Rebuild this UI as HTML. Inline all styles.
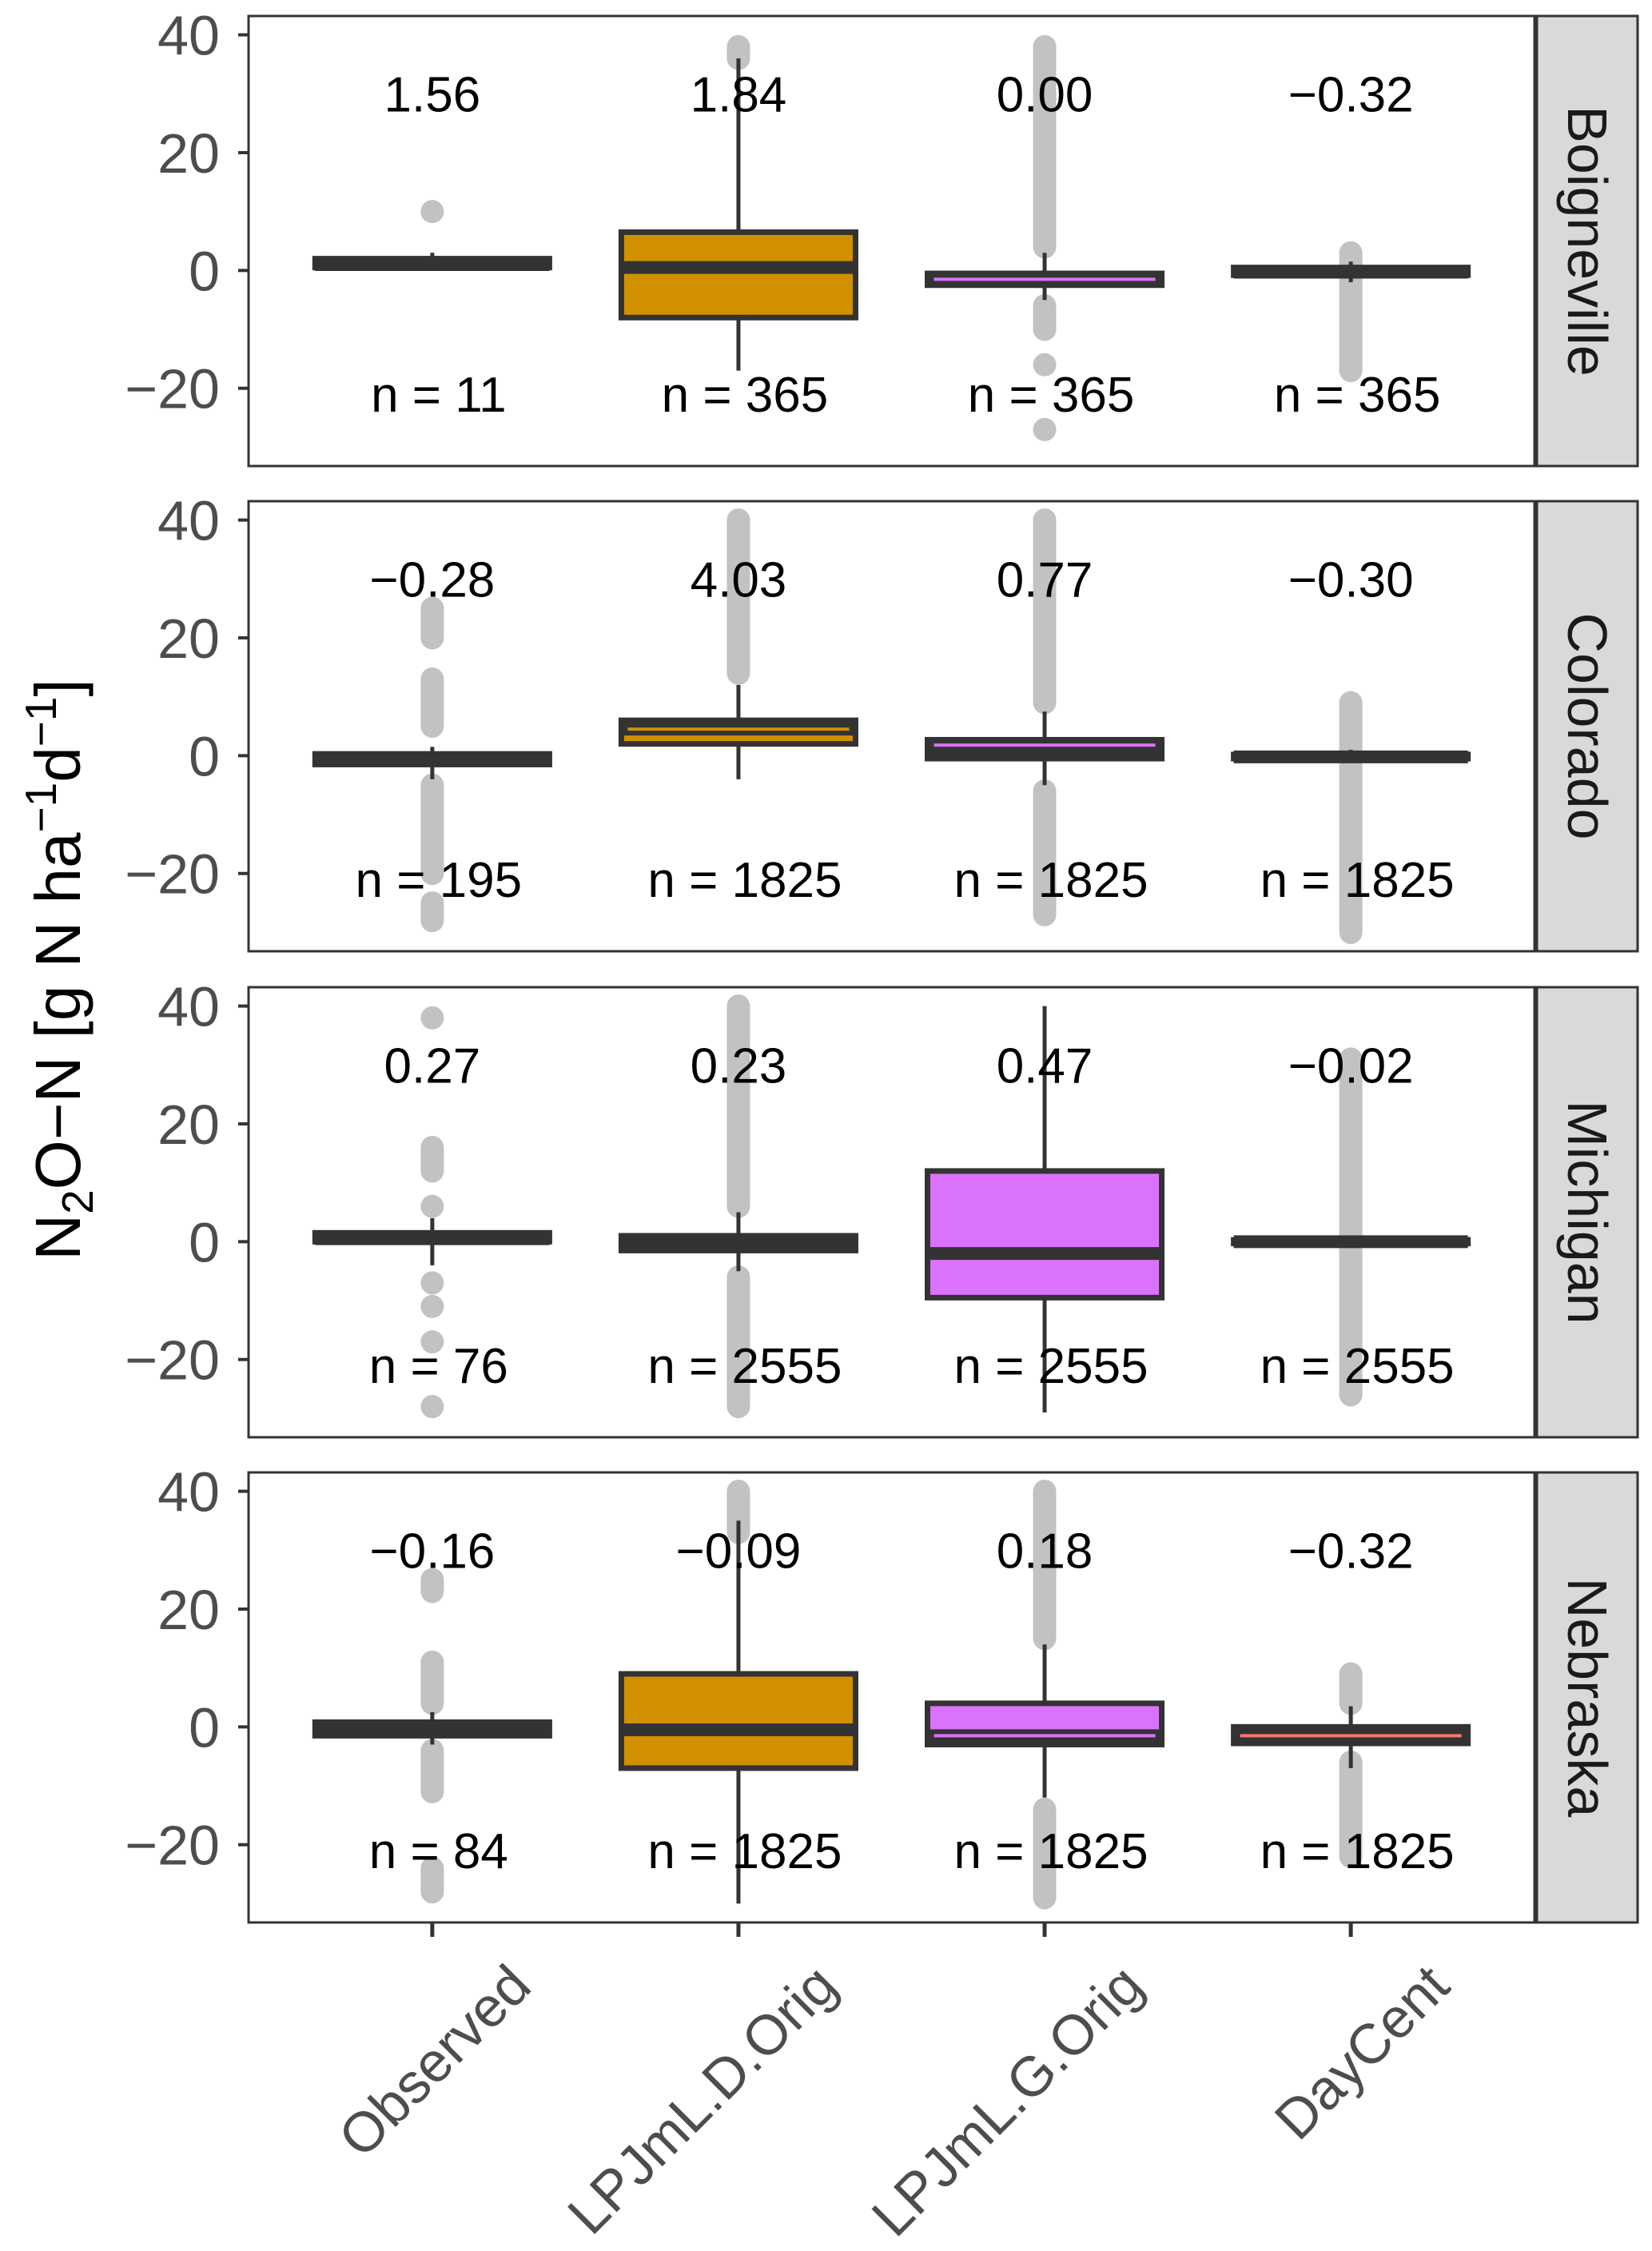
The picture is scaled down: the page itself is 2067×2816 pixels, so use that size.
<!DOCTYPE html>
<html><head><meta charset="utf-8"><style>
html,body{margin:0;padding:0;background:#fff;}
svg{display:block;font-family:"Liberation Sans",Arial,sans-serif;}
</style></head><body>
<svg id="chart" width="2067" height="2816" viewBox="0 0 2067 2816" xmlns="http://www.w3.org/2000/svg">
<text transform="translate(100,1213) rotate(-90)" text-anchor="middle" font-size="80" fill="#000">N<tspan font-size="55" dy="16">2</tspan><tspan dy="-16">O−N [g N ha</tspan><tspan font-size="55" dy="-30">−1</tspan><tspan dy="30">d</tspan><tspan font-size="55" dy="-30">−1</tspan><tspan dy="30">]</tspan></text>
</svg>
<script>
const categories = ["Observed","LPJmL.D.Orig","LPJmL.G.Orig","DayCent"];
const sites = ["Boigneville","Colorado","Michigan","Nebraska"];
const fills = ["#333333","#d19000","#db72fb","#333333"];
const yTicks = [-20,0,20,40];
// per site, per category: [whiskerLow, q1, median, q3, whiskerHigh]
const boxStats = [
 [[0.5,0.5,1,2,3],[-17,-8,0.5,6.5,36],[-5,-2.5,-1.5,-0.5,3],[-2,-0.8,-0.3,0.5,1.5]],
 [[-4,-1.5,-0.8,0.3,1.5],[-4,2,4.5,6,12],[-5,-0.5,1.8,2.7,7.5],[-1,-0.5,-0.2,0.2,1]],
 [[-4,0,0.5,1.5,4],[-5,-1.5,-0.5,1,5],[-29,-9.5,-2,12,40],[-0.5,-0.3,0,0.3,0.5]],
 [[-3,-1.5,-0.3,0.8,2.5],[-30,-7,-0.5,9,35],[-12,-3,-1.5,4,14],[-7,-2.8,-1.5,0,3.5]]
];
// median stripe colour shown (null = plain dark median)
const medianColors = [
 [null,null,"#db72fb",null],
 [null,"#d19000","#db72fb",null],
 [null,null,null,null],
 [null,null,"#db72fb","#f8766d"]
];
// outlier runs [low, high]
const outlierRuns = [
 [[[10,10]],[[36,38]],[[4,38],[-6,-10],[-16,-16],[-27,-27]],[[-17,3]]],
 [[[20,25],[5,13],[-5,-20],[-25,-28]],[[14,40]],[[9,40],[-6,-27]],[[-30,9]]],
 [[[38,38],[12,16],[6,6],[-7,-7],[-11,-11],[-17,-17],[-28,-28]],[[6,40],[-6,-28]],[],[[-26,31]]],
 [[[23,25],[4,11],[-4,-11],[-24,-28]],[[33,40]],[[15,40],[-14,-29]],[[4,9],[-6,-22]]]
];
const meanLabels = [["1.56","1.84","0.00","−0.32"],["−0.28","4.03","0.77","−0.30"],["0.27","0.23","0.47","−0.02"],["−0.16","−0.09","0.18","−0.32"]];
const nLabels = [["11","365","365","365"],["195","1825","1825","1825"],["76","2555","2555","2555"],["84","1825","1825","1825"]];

const NS="http://www.w3.org/2000/svg";
const svg=document.getElementById('chart');
const plotL=311, plotR=1920, stripL=1923, stripR=2049, panelH=563;
const panelTops=[20,627,1235,1842];
const yMin=-33.2, yMax=43.2;
const step=(plotR-plotL)/4.2;
function xPos(i){return plotL+step*(0.6+i);}
function mk(tag,attrs,parent){const e=document.createElementNS(NS,tag);for(const k in attrs)e.setAttribute(k,attrs[k]);(parent||svg).appendChild(e);return e;}
const boxW=step*0.765;

sites.forEach((site,p)=>{
  const top=panelTops[p];
  const yS=v=>top+(yMax-v)/(yMax-yMin)*panelH;
  const g=mk('g',{});
  
  
  const bg=mk('rect',{x:plotL,y:top,width:plotR-plotL,height:panelH,fill:'#fff'},g);
  
  
  yTicks.forEach(t=>{
    const tk=mk('line',{x1:plotL-13,x2:plotL,y1:yS(t),y2:yS(t),stroke:'#333','stroke-width':4},g);
    
    
    const tl=mk('text',{x:plotL-36,y:yS(t)+25,'text-anchor':'end','font-size':70,fill:'#4d4d4d'},g);
    tl.textContent=t<0?'−'+Math.abs(t):String(t);
    
    
  });
  categories.forEach((c,i)=>{
    const x=xPos(i);
    outlierRuns[p][i].forEach(r=>{
      const o=mk('line',{x1:x,x2:x,y1:yS(r[1]),y2:yS(r[0]),stroke:'#c2c2c2','stroke-width':29,'stroke-linecap':'round'},g);
      
      
    });
    const s=boxStats[p][i];
    const w=mk('line',{x1:x,x2:x,y1:yS(s[4]),y2:yS(s[0]),stroke:'#333','stroke-width':5},g);
    
    
    const bh=yS(s[1])-yS(s[3]);
    const thin=bh<25;
    const b=mk('rect',{x:x-boxW/2,y:yS(s[3]),width:boxW,height:Math.max(bh,1),fill:thin?'#333':fills[i],stroke:'#333','stroke-width':7},g);
    
    
    const mc=medianColors[p][i];
    const m=mk('line',{x1:x-boxW/2,x2:x+boxW/2,y1:yS(s[2]),y2:yS(s[2]),stroke:'#333','stroke-width':16},g);
    
    
    if(mc){
      const ms=mk('line',{x1:x-boxW/2+8,x2:x+boxW/2-8,y1:yS(s[2]),y2:yS(s[2]),stroke:mc,'stroke-width':4},g);
      
      
    }
    const ml=mk('text',{x:x,y:yS(30)+22,'text-anchor':'middle','font-size':62,fill:'#000'},g);
    ml.textContent=meanLabels[p][i];
    
    
    const nl=mk('text',{x:x+8,y:yS(-21)+22,'text-anchor':'middle','font-size':62,fill:'#000'},g);
    nl.textContent='n = '+nLabels[p][i];
    
    
  });
  const br=mk('rect',{x:plotL,y:top,width:plotR-plotL,height:panelH,fill:'none',stroke:'#333','stroke-width':3},g);
  
  
  const st=mk('rect',{x:stripL,y:top,width:stripR-stripL,height:panelH,fill:'#d9d9d9',stroke:'#333','stroke-width':3},g);
  
  
  const stt=mk('text',{transform:`translate(${(stripL+stripR)/2-24},${top+panelH/2}) rotate(90)`,'text-anchor':'middle','font-size':70,fill:'#1a1a1a'},g);
  stt.textContent=site;
  
  
});
const bottom=panelTops[3]+panelH;
categories.forEach((c,i)=>{
  const x=xPos(i);
  const t=mk('line',{x1:x,x2:x,y1:bottom,y2:bottom+18,stroke:'#333','stroke-width':5});
  
  
  const l=mk('text',{transform:`translate(${x+127},${bottom+83}) rotate(-45)`,'text-anchor':'end','font-size':70,fill:'#4d4d4d'});
  l.textContent=c;
  
  
});
</script>
</body></html>
